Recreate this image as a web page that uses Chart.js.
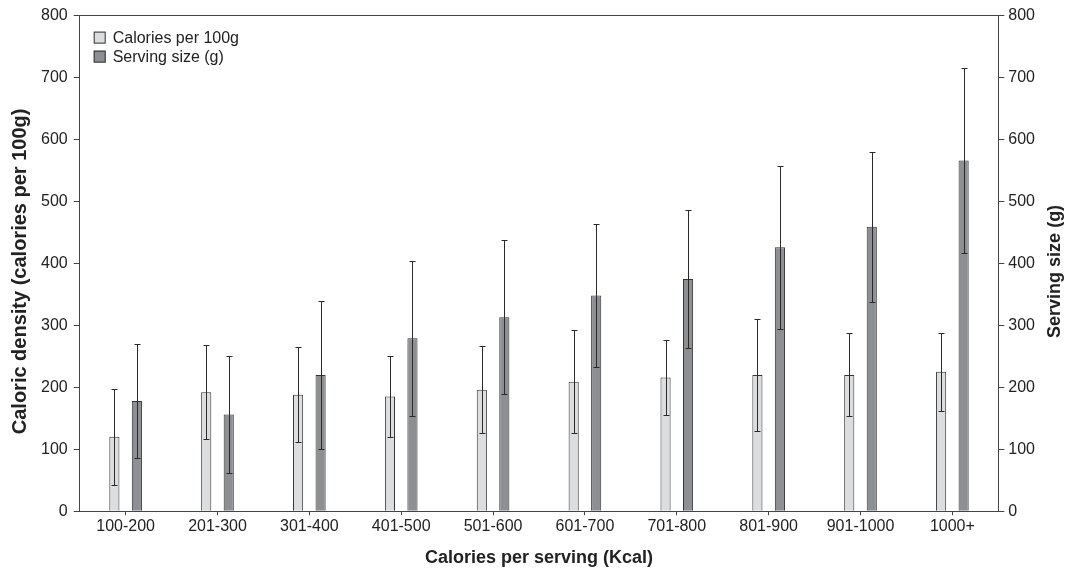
<!DOCTYPE html>
<html>
<head>
<meta charset="utf-8">
<script src="https://cdn.jsdelivr.net/npm/chart.js@4"></script>
<style>
  html, body { margin: 0; padding: 0; background: #fff; }
  #wrap { width: 1068px; height: 572px; }
</style>
</head>
<body>
<div id="wrap"><canvas id="chart" width="1068" height="572"></canvas></div>
<script>
// categories and values
const categories = ["100-200", "201-300", "301-400", "401-500", "501-600",
                    "601-700", "701-800", "801-900", "901-1000", "1000+"];
const caloriesPer100g = [120, 192, 188, 185, 196, 209, 216, 220, 220, 225];
const caloriesErr = [78, 76, 77, 66, 70, 83, 60, 91, 67, 63];
const servingSize = [178, 156, 220, 279, 313, 348, 375, 426, 459, 566];
const servingErr = [92, 95, 119, 125, 124, 116, 111, 132, 121, 150];
const yTicks = [0, 100, 200, 300, 400, 500, 600, 700, 800];
const leftTitle = "Caloric density (calories per 100g)";
const rightTitle = "Serving size (g)";

const FONT = "'Liberation Sans', Arial, Helvetica, sans-serif";
const AXIS_COLOR = "#444";
const TEXT_COLOR = "#222";

Chart.defaults.font.family = FONT;
Chart.defaults.color = TEXT_COLOR;

// draws +/- error whiskers through each bar using the y scale
const errorBars = {
    id: "errorBars",
    afterDatasetsDraw(chart) {
        const ctx = chart.ctx;
        ctx.save();
        ctx.strokeStyle = "#2a2a2a";
        ctx.lineWidth = 1;
        chart.data.datasets.forEach((ds, di) => {
            const meta = chart.getDatasetMeta(di);
            const scale = chart.scales[ds.yAxisID];
            meta.data.forEach((bar, i) => {
                const x = Math.round(bar.x) + 0.5;
                const top = Math.round(scale.getPixelForValue(ds.data[i] + ds.errors[i])) + 0.5;
                const bot = Math.round(scale.getPixelForValue(ds.data[i] - ds.errors[i])) + 0.5;
                ctx.beginPath();
                ctx.moveTo(x, top);
                ctx.lineTo(x, bot);
                ctx.moveTo(x - 3, top);
                ctx.lineTo(x + 3, top);
                ctx.moveTo(x - 3, bot);
                ctx.lineTo(x + 3, bot);
                ctx.stroke();
            });
        });
        ctx.restore();
    }
};

// legend in the top-left corner of the plot, plus both y titles reading bottom-up
const extras = {
    id: "extras",
    afterDraw(chart) {
        const ctx = chart.ctx;
        const area = chart.chartArea;
        ctx.save();
        ctx.font = "16px " + FONT;
        ctx.textBaseline = "middle";
        chart.data.datasets.forEach((ds, i) => {
            const bx = area.left + 14;
            const cy = area.top + 22 + i * 19;
            ctx.fillStyle = ds.backgroundColor;
            ctx.fillRect(bx, cy - 6, 12, 12);
            ctx.strokeStyle = "#333";
            ctx.lineWidth = 1;
            ctx.strokeRect(bx + 0.5, cy - 5.5, 11, 11);
            ctx.fillStyle = TEXT_COLOR;
            ctx.fillText(ds.label, bx + 19, cy + 1);
        });

        ctx.fillStyle = TEXT_COLOR;
        ctx.textAlign = "center";
        const midY = (area.top + area.bottom) / 2 + 8;
        [[leftTitle, 20, "bold 20px "], [rightTitle, 1055, "bold 18px "]].forEach(t => {
            ctx.save();
            ctx.font = t[2] + FONT;
            ctx.translate(t[1], midY);
            ctx.rotate(-Math.PI / 2);
            ctx.fillText(t[0], 0, 0);
            ctx.restore();
        });
        ctx.restore();
    }
};

function valueAxis(position, pad) {
    return {
        type: "linear",
        position: position,
        min: 0,
        max: 800,
        afterBuildTicks: axis => { axis.ticks = yTicks.map(v => ({ value: v })); },
        ticks: { font: { size: 16 }, color: TEXT_COLOR, padding: pad },
        grid: { display: true, drawOnChartArea: false, drawTicks: true, tickLength: 6, color: AXIS_COLOR },
        border: { display: true, color: AXIS_COLOR, width: 1 }
    };
}

new Chart(document.getElementById("chart"), {
    type: "bar",
    data: {
        labels: categories,
        datasets: [
            {
                label: "Calories per 100g",
                data: caloriesPer100g,
                errors: caloriesErr,
                yAxisID: "y",
                backgroundColor: "#dcdddf",
                borderColor: "#333",
                borderWidth: 1,
                categoryPercentage: 0.49,
                barPercentage: 0.45
            },
            {
                label: "Serving size (g)",
                data: servingSize,
                errors: servingErr,
                yAxisID: "y2",
                backgroundColor: "#8e8f93",
                borderColor: "#333",
                borderWidth: 1,
                categoryPercentage: 0.49,
                barPercentage: 0.45
            }
        ]
    },
    options: {
        responsive: false,
        animation: false,
        layout: { padding: { top: 15, left: 35, right: 29, bottom: 3 } },
        plugins: {
            legend: { display: false },
            tooltip: { enabled: false }
        },
        scales: {
            x: {
                type: "category",
                position: "bottom",
                grid: { display: true, offset: false, drawOnChartArea: false, drawTicks: true, tickLength: 4, color: AXIS_COLOR },
                border: { display: true, color: AXIS_COLOR, width: 1 },
                ticks: { font: { size: 16 }, color: TEXT_COLOR, padding: 2 },
                title: {
                    display: true,
                    text: "Calories per serving (Kcal)",
                    font: { size: 18, weight: "bold" },
                    color: TEXT_COLOR,
                    padding: { top: 9, bottom: 0 }
                }
            },
            xTop: {
                type: "category",
                position: "top",
                grid: { display: true, drawOnChartArea: false, drawTicks: false },
                border: { display: true, color: AXIS_COLOR, width: 1 },
                ticks: { display: false }
            },
            y: valueAxis("left", 6),
            y2: valueAxis("right", 4)
        }
    },
    plugins: [errorBars, extras]
});
</script>
</body>
</html>
